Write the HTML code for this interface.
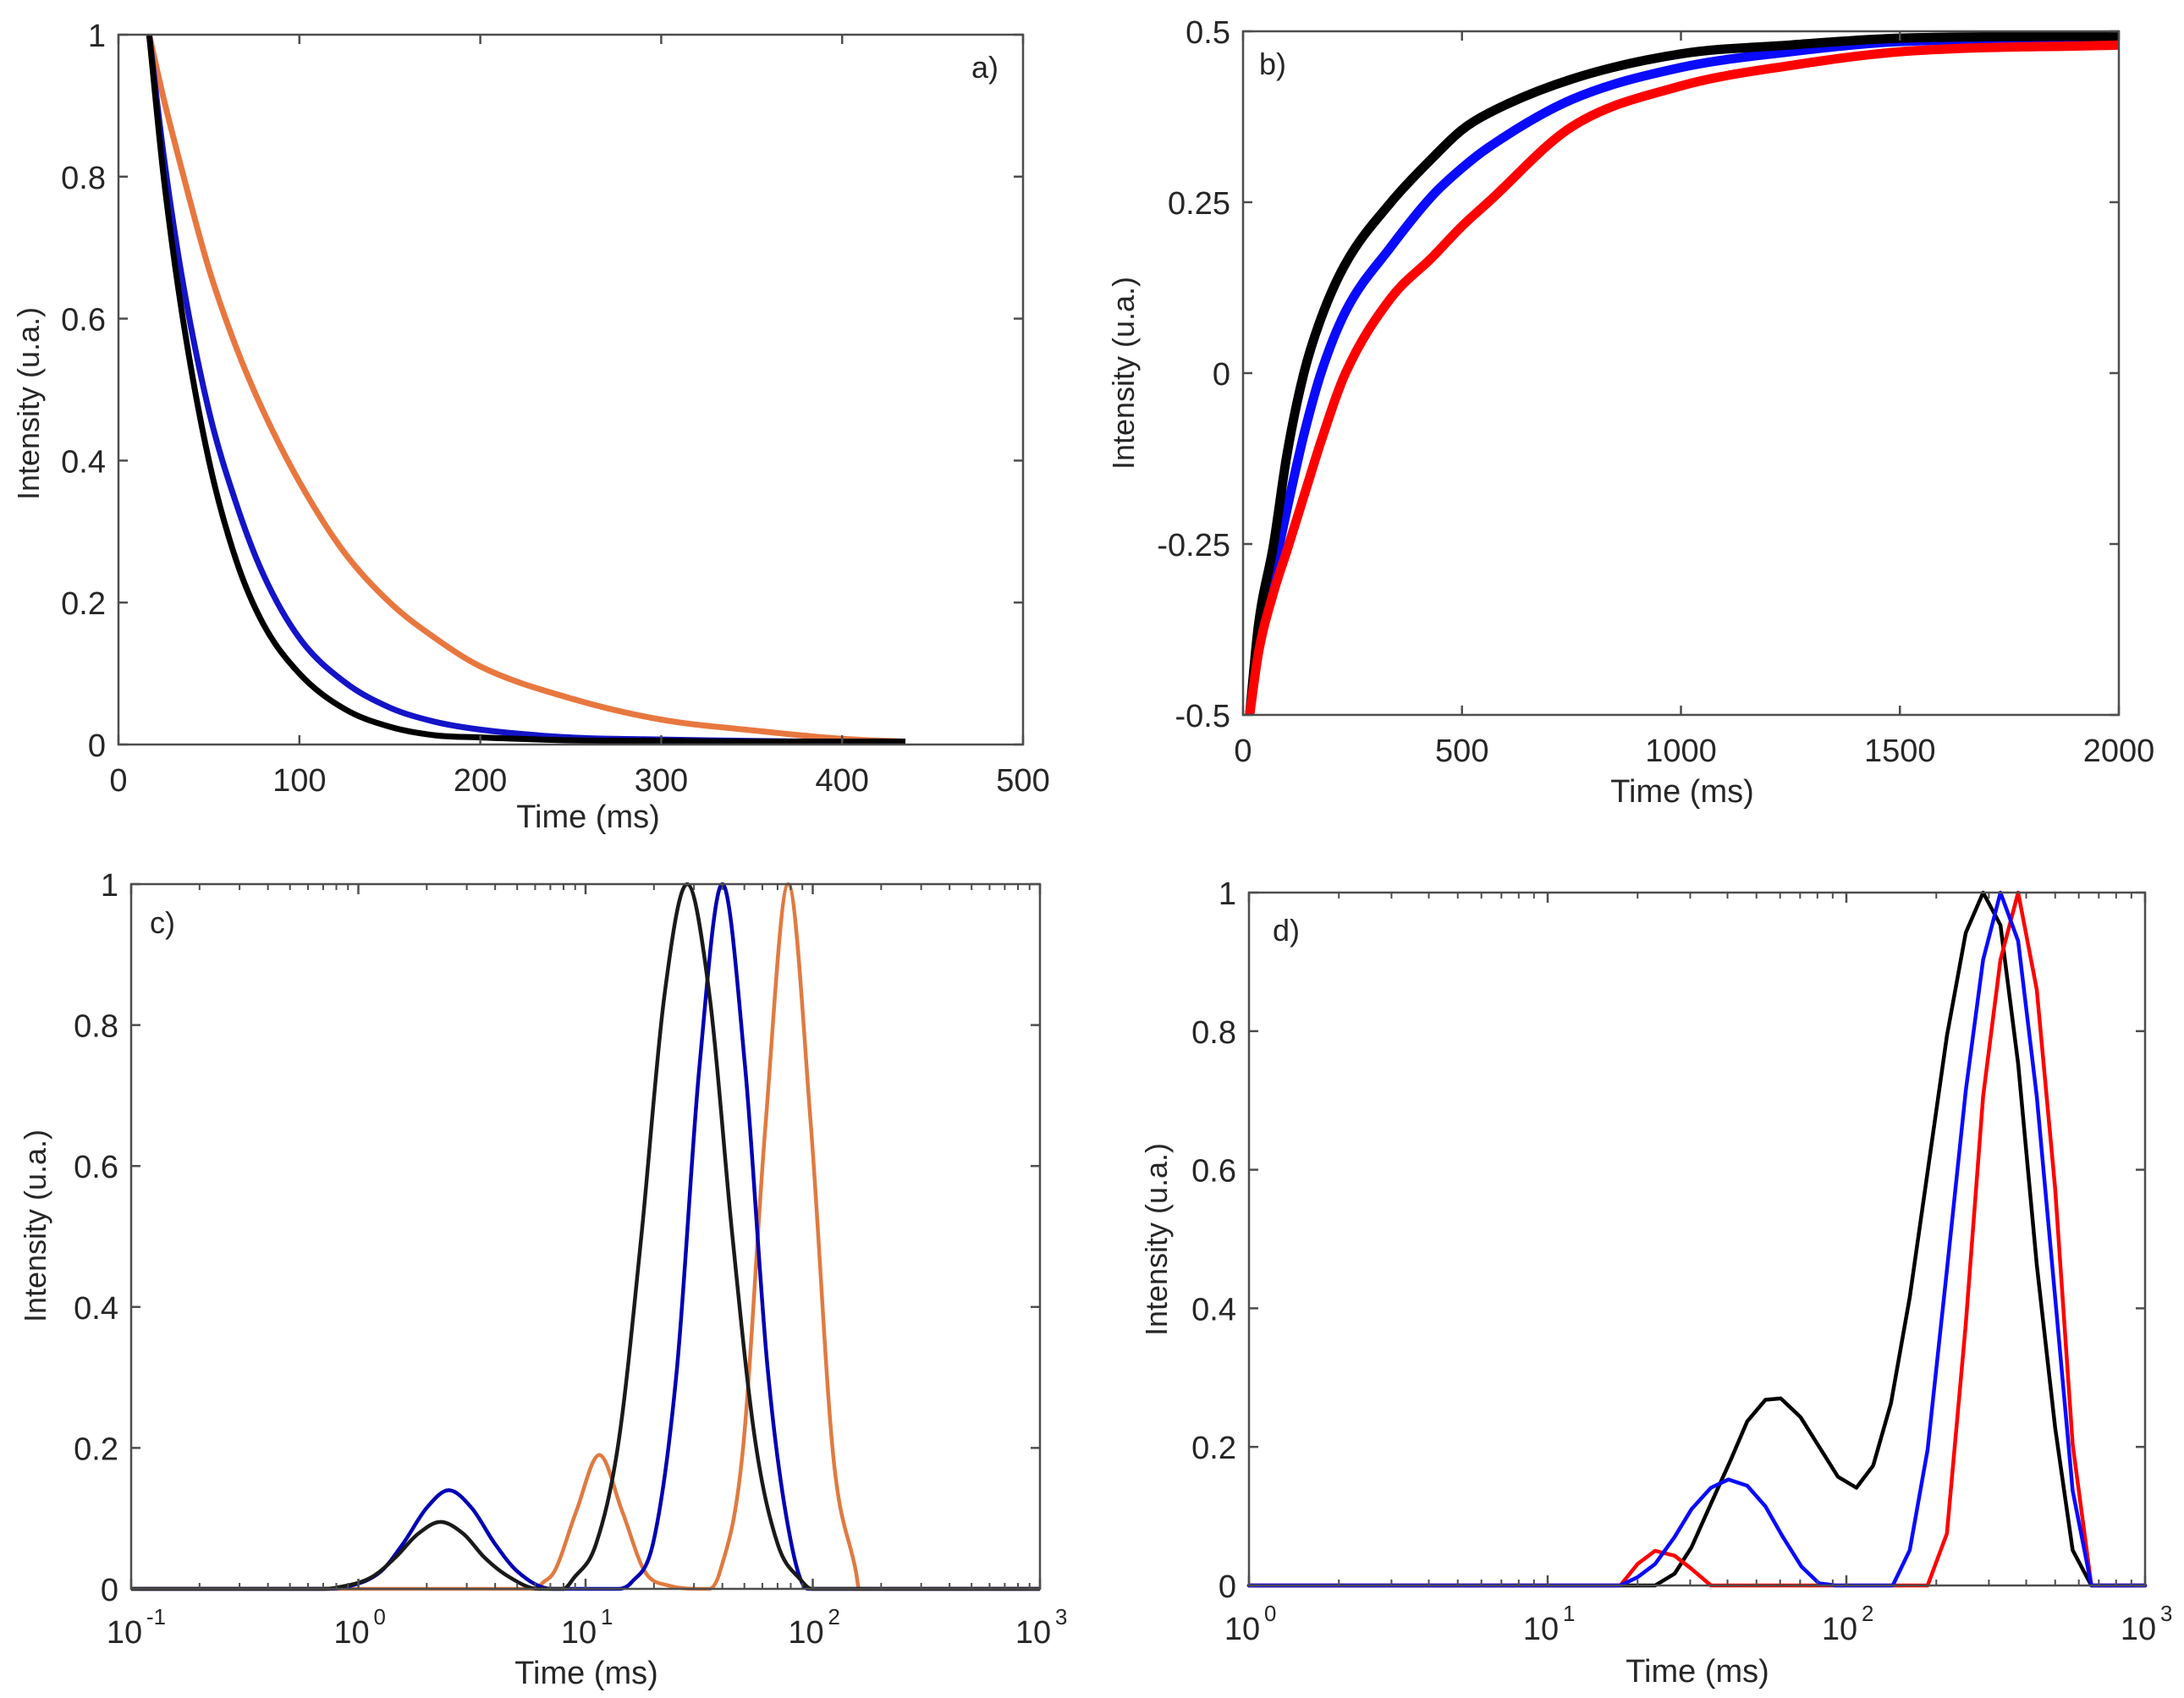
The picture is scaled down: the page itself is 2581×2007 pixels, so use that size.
<!DOCTYPE html>
<html><head><meta charset="utf-8">
<style>
html,body{margin:0;padding:0;background:#fff;}
svg{display:block;font-family:"Liberation Sans",Arial,sans-serif;}
text{fill:#262626;}
</style></head>
<body>
<svg id="fig" width="2581" height="2007" viewBox="0 0 2581 2007" xmlns="http://www.w3.org/2000/svg"></svg>
<script>
// ---------- Panel a data ----------
const aTime = [17,25,35,50,65,80,100,125,150,175,200,250,300,350,400,435];
const aBlack = [1,0.80,0.61,0.40,0.26,0.17,0.10,0.05,0.025,0.013,0.01,0.006,0.005,0.004,0.004,0.004];
const aBlue  = [1,0.83,0.66,0.47,0.34,0.24,0.15,0.088,0.052,0.032,0.021,0.01,0.007,0.005,0.004,0.004];
const aOrange= [1,0.91,0.81,0.67,0.56,0.47,0.37,0.27,0.20,0.15,0.11,0.065,0.035,0.02,0.008,0.004];
const aXTicks = [0,100,200,300,400,500];
const aYTicks = [0,0.2,0.4,0.6,0.8,1];
const aYTickLabels = ["0","0.2","0.4","0.6","0.8","1"];
// ---------- Panel b data ----------
const bTime = [15,35,70,100,139,178,234,338,433,500,560,750,1000,1250,1500,2000];
const bBlack = [-0.5,-0.37,-0.25,-0.12,0,0.08,0.16,0.25,0.315,0.356,0.38,0.43,0.467,0.48,0.49,0.493];
const bBlue  = [-0.5,-0.39,-0.29,-0.2,-0.09,0,0.09,0.185,0.26,0.30,0.33,0.40,0.447,0.47,0.485,0.49];
const bRed   = [-0.5,-0.41,-0.32,-0.26,-0.18,-0.1,0,0.11,0.17,0.215,0.25,0.36,0.42,0.45,0.47,0.48];
const bXTicks = [0,500,1000,1500,2000];
const bYTicks = [-0.5,-0.25,0,0.25,0.5];
const bYTickLabels = ["-0.5","-0.25","0","0.25","0.5"];
// ---------- Panel c data ----------
const cBlackX = [0.1,0.7,0.81,1.15,1.45,1.83,2.3,2.9,3.6,4.6,6.2,8,8.85,11.1,14.0,17.6,22.2,28,35.2,44.3,55.8,70.2,88.4,99,1000];
const cBlackY = [0,0,0.002,0.017,0.044,0.078,0.095,0.078,0.044,0.017,0,0,0.015,0.063,0.21,0.5,0.84,1,0.84,0.5,0.21,0.063,0.013,0,0];
const cBlueX = [0.1,0.7,0.89,1.26,1.58,2.0,2.5,3.15,3.97,5.0,7.1,14,15.9,20,25.2,31.7,40,50.4,63.4,79.8,95,1000];
const cBlueY = [0,0,0.003,0.025,0.065,0.115,0.14,0.115,0.065,0.025,0,0,0.009,0.07,0.31,0.74,1,0.74,0.31,0.07,0,0];
const cOrangeX = [0.1,6,6.5,7.3,9.1,11.5,14.5,18.2,23,33,35,39,49,62,78,98,123,155,160,1000];
const cOrangeY = [0,0,0.009,0.025,0.11,0.19,0.11,0.025,0.005,0,0,0.024,0.19,0.66,1,0.66,0.19,0.024,0,0];
const cYTicks = [0,0.2,0.4,0.6,0.8,1];
const cYTickLabels = ["0","0.2","0.4","0.6","0.8","1"];
const cDecades = [-1,0,1,2,3];
// ---------- Panel d data ----------
const dBlackX = [1,22.9,26.6,30.3,35.2,40.9,46.6,53.6,60.3,70.2,81.1,93.7,108,123,141,163,187,217,251,287,328,376,434,500,572,661,1000];
const dBlackY = [0,0,0.017,0.055,0.118,0.18,0.237,0.268,0.27,0.243,0.2,0.157,0.141,0.173,0.263,0.416,0.597,0.793,0.942,1,0.953,0.753,0.463,0.228,0.051,0,0];
const dBlueX = [1,17.5,20,22.9,26.6,30.3,35.2,40.3,46.6,53.6,61.3,70.8,81,92,143,163,187,217,251,287,328,376,434,500,572,661,1000];
const dBlueY = [0,0,0.012,0.031,0.07,0.11,0.141,0.153,0.144,0.114,0.07,0.027,0.003,0,0,0.051,0.196,0.455,0.714,0.903,1,0.93,0.706,0.416,0.137,0,0];
const dRedX = [1,17.5,20,22.9,26.6,30.3,35.2,187,217,251,287,328,376,434,500,572,661,1000];
const dRedY = [0,0,0.031,0.05,0.043,0.024,0,0,0.075,0.377,0.706,0.903,1,0.86,0.573,0.204,0,0];
const dYTicks = [0,0.2,0.4,0.6,0.8,1];
const dYTickLabels = ["0","0.2","0.4","0.6","0.8","1"];
const dDecades = [0,1,2,3];

const NS = "http://www.w3.org/2000/svg";
const svg = document.getElementById('fig');
function mk(tag, attrs, parent){
  const e = document.createElementNS(NS, tag);
  for (const k in attrs) e.setAttribute(k, attrs[k]);
  (parent||svg).appendChild(e);
  return e;
}
function linScale(d0,d1,r0,r1){ return v => r0 + (v-d0)/(d1-d0)*(r1-r0); }
function logScale(d0,d1,r0,r1){ return v => r0 + (Math.log10(v)-d0)/(d1-d0)*(r1-r0); }

function axesBox(g, L,T,R,B){
  const r = mk('rect',{x:L,y:T,width:R-L,height:B-T,fill:'none',stroke:'#4d4d4d','stroke-width':2.5},g);
  
  
}
function yTicks(g, sy, vals, labels, L, R, fs){
  vals.forEach((v,i)=>{
    const y = sy(v);
    const t1 = mk('line',{x1:L,x2:L+11,y1:y,y2:y,stroke:'#4d4d4d','stroke-width':2.5},g);
    
    
    mk('line',{x1:R-11,x2:R,y1:y,y2:y,stroke:'#4d4d4d','stroke-width':2.5},g);
    const t = mk('text',{x:L-15,y:y+14,'font-size':fs,'text-anchor':'end'},g);
    t.textContent = labels[i];
    
    
  });
}
function xTicksLin(g, sx, vals, T, B, fs){
  vals.forEach(v=>{
    const x = sx(v);
    const t1 = mk('line',{x1:x,x2:x,y1:B,y2:B-11,stroke:'#4d4d4d','stroke-width':2.5},g);
    
    
    mk('line',{x1:x,x2:x,y1:T,y2:T+11,stroke:'#4d4d4d','stroke-width':2.5},g);
    const t = mk('text',{x:x,y:B+55,'font-size':fs,'text-anchor':'middle'},g);
    t.textContent = String(v);
    
    
  });
}
function xTicksLog(g, sx, decs, T, B, fs){
  decs.forEach((d,i)=>{
    const x = sx(Math.pow(10,d));
    const t1 = mk('line',{x1:x,x2:x,y1:B,y2:B-12,stroke:'#4d4d4d','stroke-width':2.5},g);
    
    
    mk('line',{x1:x,x2:x,y1:T,y2:T+12,stroke:'#4d4d4d','stroke-width':2.5},g);
    const t = mk('text',{x:x-8,y:B+64,'font-size':fs,'text-anchor':'middle'},g);
    t.textContent = '10';
    
    
    const s = mk('text',{x:x+18,y:B+42,'font-size':fs*0.68,'text-anchor':'start'},g);
    s.textContent = String(d);
    if (i < decs.length-1){
      for (let m=2;m<=9;m++){
        const xm = sx(m*Math.pow(10,d));
        mk('line',{x1:xm,x2:xm,y1:B,y2:B-7,stroke:'#4d4d4d','stroke-width':2},g);
        mk('line',{x1:xm,x2:xm,y1:T,y2:T+7,stroke:'#4d4d4d','stroke-width':2},g);
      }
    }
  });
}
function polyline(g, xs, ys, sx, sy, color, w, name){
  const pts = xs.map((x,i)=>sx(x).toFixed(1)+','+sy(ys[i]).toFixed(1)).join(' ');
  const p = mk('polyline',{points:pts,fill:'none',stroke:color,'stroke-width':w,'stroke-linejoin':'round','stroke-linecap':'round'},g);
  
  
  return p;
}
function smoothPath(g, xs, ys, sx, sy, color, w, name){
  const X = xs.map(sx), Y = ys.map(sy), n = X.length;
  const dk=[], m=[];
  for (let i=0;i<n-1;i++) dk.push((Y[i+1]-Y[i])/(X[i+1]-X[i]));
  m[0]=dk[0]; m[n-1]=dk[n-2];
  for (let i=1;i<n-1;i++){
    m[i] = (dk[i-1]*dk[i] <= 0) ? 0 : (dk[i-1]+dk[i])/2;
  }
  for (let i=0;i<n-1;i++){
    if (dk[i]===0){ m[i]=0; m[i+1]=0; continue; }
    const a=m[i]/dk[i], b=m[i+1]/dk[i], s=a*a+b*b;
    if (s>9){ const t=3/Math.sqrt(s); m[i]=t*a*dk[i]; m[i+1]=t*b*dk[i]; }
  }
  let d = 'M'+X[0].toFixed(1)+','+Y[0].toFixed(1);
  for (let i=0;i<n-1;i++){
    const h = (X[i+1]-X[i])/3;
    d += ' C'+(X[i]+h).toFixed(1)+','+(Y[i]+m[i]*h).toFixed(1)+' '+(X[i+1]-h).toFixed(1)+','+(Y[i+1]-m[i+1]*h).toFixed(1)+' '+X[i+1].toFixed(1)+','+Y[i+1].toFixed(1);
  }
  const p = mk('path',{d:d,fill:'none',stroke:color,'stroke-width':w,'stroke-linejoin':'round'},g);
  
  
}
function labels(g, panelLbl, px, py, xt, xtx, xty, ytx, yty){
  const a = mk('text',{x:px,y:py,'font-size':36},g); a.textContent = panelLbl;
  
  
  const xtl = mk('text',{x:xtx,y:xty,'font-size':38,'text-anchor':'middle'},g); xtl.textContent = xt;
  
  
  const ytl = mk('text',{x:0,y:0,'font-size':36,'text-anchor':'middle',transform:'translate('+ytx+','+yty+') rotate(-90)'},g);
  ytl.textContent = 'Intensity (u.a.)';
  
  
}

// ===== Panel a =====
(function(){
  const L=140,R=1209,T=41,B=880;
  const g = mk('g',{});  
  const sx = linScale(0,500,L,R), sy = linScale(0,1,B,T);
  smoothPath(g,aTime,aOrange,sx,sy,'#E8773F',7,'series-orange');
  smoothPath(g,aTime,aBlue,sx,sy,'#1414C8',7,'series-blue');
  smoothPath(g,aTime,aBlack,sx,sy,'#000',7,'series-black');
  axesBox(g,L,T,R,B);
  yTicks(g,sy,aYTicks,aYTickLabels,L,R,38);
  xTicksLin(g,sx,aXTicks,T,B,38);
  labels(g,'a)',1148,92,'Time (ms)',695,978,46,477);
})();
// ===== Panel b =====
(function(){
  const L=1469,R=2504,T=37,B=845;
  const g = mk('g',{});  
  const sx = linScale(0,2000,L,R), sy = linScale(-0.5,0.5,B,T);
  smoothPath(g,bTime,bBlue,sx,sy,'#0a0aff',11,'series-blue');
  smoothPath(g,bTime,bBlack,sx,sy,'#000',11,'series-black');
  smoothPath(g,bTime,bRed,sx,sy,'#ff0000',11,'series-red');
  axesBox(g,L,T,R,B);
  yTicks(g,sy,bYTicks,bYTickLabels,L,R,38);
  xTicksLin(g,sx,bXTicks,T,B,38);
  labels(g,'b)',1488,88,'Time (ms)',1988,948,1340,441);
})();
// ===== Panel c =====
(function(){
  const L=155,R=1229,T=1045,B=1878;
  const g = mk('g',{});  
  const sx = logScale(-1,3,L,R), sy = linScale(0,1,B,T);
  smoothPath(g,cOrangeX,cOrangeY,sx,sy,'#E07A40',4.5,'series-orange');
  smoothPath(g,cBlueX,cBlueY,sx,sy,'#0000B4',4.5,'series-blue');
  smoothPath(g,cBlackX,cBlackY,sx,sy,'#1a1a1a',4.5,'series-black');
  axesBox(g,L,T,R,B);
  yTicks(g,sy,cYTicks,cYTickLabels,L,R,38);
  xTicksLog(g,sx,cDecades,T,B,38);
  labels(g,'c)',177,1103,'Time (ms)',693,1990,54,1449);
})();
// ===== Panel d =====
(function(){
  const L=1476,R=2535,T=1055,B=1874;
  const g = mk('g',{});  
  const sx = logScale(0,3,L,R), sy = linScale(0,1,B,T);
  polyline(g,dBlackX,dBlackY,sx,sy,'#000',4.5,'series-black');
  polyline(g,dRedX,dRedY,sx,sy,'#ff0000',4.5,'series-red');
  polyline(g,dBlueX,dBlueY,sx,sy,'#0a0aff',4.5,'series-blue');
  axesBox(g,L,T,R,B);
  yTicks(g,sy,dYTicks,dYTickLabels,L,R,38);
  xTicksLog(g,sx,dDecades,T,B,38);
  labels(g,'d)',1504,1112,'Time (ms)',2006,1988,1379,1465);
})();
</script>
</body></html>
